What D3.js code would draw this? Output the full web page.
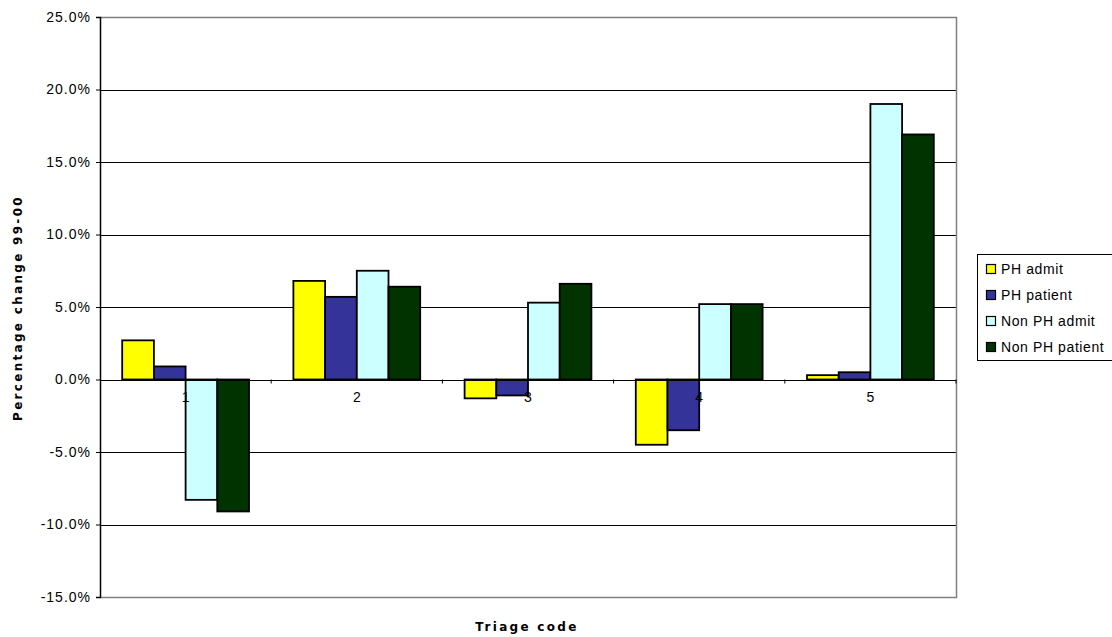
<!DOCTYPE html>
<html>
<head>
<meta charset="utf-8">
<script src="https://cdn.jsdelivr.net/npm/d3@7"></script>
<style>
  html, body { margin: 0; padding: 0; background: #fff; }
  svg { display: block; font-family: "Liberation Sans", Arial, sans-serif; }
</style>
</head>
<body>
<svg id="chart" width="1112" height="637"></svg>
<script>
// Triage codes along the x axis
const categories = ["1", "2", "3", "4", "5"];

// Percentage change 99-00 per series (in %)
const phAdmit      = [2.7, 6.8, -1.3, -4.5, 0.3];
const phPatient    = [0.9, 5.7, -1.1, -3.5, 0.5];
const nonPhAdmit   = [-8.3, 7.5, 5.3, 5.2, 19.0];
const nonPhPatient = [-9.1, 6.4, 6.6, 5.2, 16.9];

const seriesNames  = ["PH admit", "PH patient", "Non PH admit", "Non PH patient"];
const seriesColors = ["#ffff00", "#333399", "#ccffff", "#003300"];
const seriesValues = [phAdmit, phPatient, nonPhAdmit, nonPhPatient];

const yTicks = [-15, -10, -5, 0, 5, 10, 15, 20, 25];

const svg = d3.select("#chart");
const plot = { left: 100, right: 956, top: 17, bottom: 597 };

const x = d3.scaleBand().domain(categories).range([plot.left, plot.right]);
const gapRatio = 1.4;
const barW = x.bandwidth() / (seriesNames.length + gapRatio);
const xs = d3.scaleBand().domain(seriesNames)
  .range([0, barW * seriesNames.length]);
const groupOffset = (x.bandwidth() - barW * seriesNames.length) / 2;

const y = d3.scaleLinear().domain([-15, 25]).range([plot.bottom, plot.top]);

// Horizontal gridlines
svg.append("g")
  .selectAll("line")
  .data(yTicks.filter(t => t !== -15 && t !== 25))
  .join("line")
  .attr("x1", plot.left).attr("x2", plot.right)
  .attr("y1", d => Math.round(y(d)) + 0.5).attr("y2", d => Math.round(y(d)) + 0.5)
  .attr("stroke", "#000").attr("stroke-width", 1);

// Plot frame (top, right, bottom)
svg.append("path")
  .attr("d", `M${plot.left},${plot.top + 0.5}H${plot.right + 0.5}V${plot.bottom + 0.5}H${plot.left}`)
  .attr("fill", "none").attr("stroke", "#808080").attr("stroke-width", 1.5);

// Bars
const rows = categories.map((c, i) => ({ c, vals: seriesValues.map(s => s[i]) }));
const groups = svg.append("g").selectAll("g")
  .data(rows).join("g")
  .attr("transform", d => `translate(${x(d.c) + groupOffset},0)`);

groups.selectAll("rect")
  .data(d => d.vals.map((v, k) => ({ v, k })))
  .join("rect")
  .attr("x", d => xs(seriesNames[d.k]))
  .attr("width", barW)
  .attr("y", d => y(Math.max(0, d.v)))
  .attr("height", d => Math.abs(y(d.v) - y(0)))
  .attr("fill", d => seriesColors[d.k])
  .attr("stroke", "#000").attr("stroke-width", 1.8);

// Y axis (plain hyphen for negative values)
const pct = d => d3.format(".1f")(d).replace("\u2212", "-") + "%";
const yAxis = d3.axisLeft(y).tickValues(yTicks)
  .tickFormat(pct)
  .tickSize(4).tickPadding(5);
const gy = svg.append("g")
  .attr("transform", `translate(${plot.left},0)`)
  .call(yAxis);
gy.select(".domain").attr("stroke", "#000").attr("stroke-width", 1.5);
gy.selectAll(".tick line").attr("stroke", "#000");
gy.selectAll(".tick text")
  .attr("font-size", 14).attr("fill", "#000")
  .attr("letter-spacing", "1px")
  .attr("font-family", "'Liberation Sans', Arial, sans-serif");

// X axis on the zero line: ticks at category boundaries
const gx = svg.append("g");
gx.append("line")
  .attr("x1", plot.left).attr("x2", plot.right)
  .attr("y1", Math.round(y(0)) + 0.5).attr("y2", Math.round(y(0)) + 0.5)
  .attr("stroke", "#000").attr("stroke-width", 1);
gx.selectAll("line.bound")
  .data(categories.slice(1).concat(["end"]))
  .join("line").attr("class", "bound")
  .attr("x1", (d, i) => plot.left + x.step() * (i + 1))
  .attr("x2", (d, i) => plot.left + x.step() * (i + 1))
  .attr("y1", y(0)).attr("y2", y(0) + 4)
  .attr("stroke", "#000");
gx.selectAll("text")
  .data(categories).join("text")
  .attr("x", d => x(d) + x.bandwidth() / 2)
  .attr("y", y(0) + 22)
  .attr("text-anchor", "middle")
  .attr("font-size", 14).attr("fill", "#000")
  .text(d => d);

// Axis titles
svg.append("text")
  .attr("x", 527).attr("y", 631)
  .attr("text-anchor", "middle")
  .attr("font-family", "'DejaVu Sans', sans-serif")
  .attr("font-size", 12).attr("font-weight", "bold")
  .attr("letter-spacing", "2.3px")
  .text("Triage code");

svg.append("text")
  .attr("transform", "translate(22,308) rotate(-90)")
  .attr("text-anchor", "middle")
  .attr("font-family", "'DejaVu Sans', sans-serif")
  .attr("font-size", 12).attr("font-weight", "bold")
  .attr("letter-spacing", "2.3px")
  .text("Percentage change 99-00");

// Legend
const legend = svg.append("g");
legend.append("rect")
  .attr("x", 977.5).attr("y", 254.5).attr("width", 150).attr("height", 106)
  .attr("fill", "#fff").attr("stroke", "#000").attr("stroke-width", 1);
const li = legend.selectAll("g.item")
  .data(seriesNames).join("g").attr("class", "item")
  .attr("transform", (d, i) => `translate(986,${268 + i * 26})`);
li.append("rect")
  .attr("x", 0.5).attr("y", -3.5).attr("width", 9).attr("height", 9)
  .attr("fill", (d, i) => seriesColors[i])
  .attr("stroke", "#000").attr("stroke-width", 1.2);
li.append("text")
  .attr("x", 15).attr("y", 6)
  .attr("font-size", 14).attr("fill", "#000")
  .attr("letter-spacing", "0.6px")
  .text(d => d);
</script>
</body>
</html>
